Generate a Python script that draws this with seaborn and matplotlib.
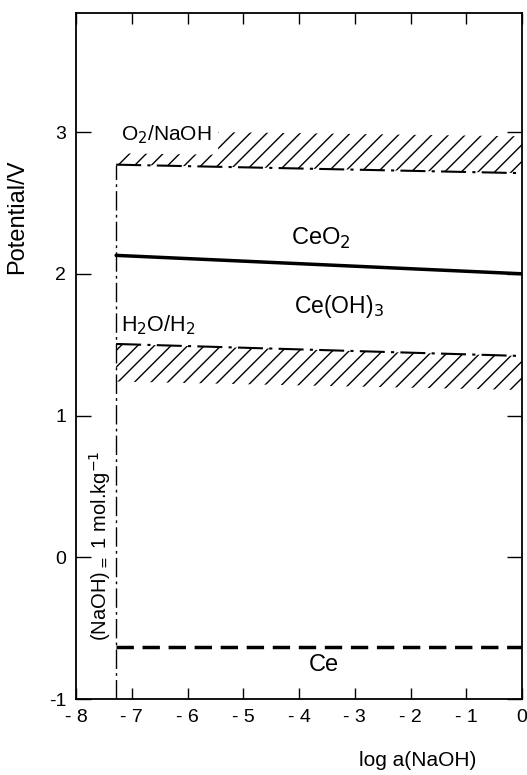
import numpy as np
import pandas as pd
import seaborn as sns
import matplotlib
matplotlib.use("Agg")
import matplotlib.pyplot as plt

sns.set_style("ticks")
plt.rcParams['font.family'] = ['Liberation Sans', 'DejaVu Sans']

DPI = 100
K = 100.0 / DPI


def S(v):
    return v * K


plt.rcParams['hatch.linewidth'] = S(1.0)
plt.rcParams['text.color'] = 'black'
plt.rcParams['xtick.color'] = 'black'
plt.rcParams['ytick.color'] = 'black'

# data
x_ends = [-7.28, 0.0]
o2_line = [2.77, 2.71]
o2_hatch_x = [-7.28, -5.45, -5.45, 0.0]
o2_hatch_top = [2.85, 2.84, 3.0, 2.97]
ceo2_line = [2.13, 2.00]
h2o_line = [1.505, 1.42]
h2o_hatch_bot = [1.24, 1.18]
ce_line = [-0.635, -0.635]
x_ticks = [-8, -7, -6, -5, -4, -3, -2, -1, 0]
x_ticklabels = ["- 8", "- 7", "- 6", "- 5", "- 4", "- 3", "- 2", "- 1", "0"]
y_ticks = [-1, 0, 1, 2, 3]
y_ticklabels = ["-1", "0", "1", "2", "3"]

fig = plt.figure(figsize=(527 / DPI, 775 / DPI), dpi=DPI)
ax = fig.add_axes([76/527, 1-699/775, (522-76)/527, (699-13)/775])

df = pd.DataFrame({
    "x": x_ends * 4,
    "y": o2_line + ceo2_line + h2o_line + ce_line,
    "line": ["O2"]*2 + ["CeO2"]*2 + ["H2O"]*2 + ["Ce"]*2,
})

# hatched bands
o2_low = np.interp(o2_hatch_x, x_ends, o2_line)
ax.fill_between(o2_hatch_x, o2_low, o2_hatch_top, facecolor="none", edgecolor="black",
                hatch="//", linewidth=0)
ax.fill_between(x_ends, h2o_hatch_bot, h2o_line, facecolor="none", edgecolor="black",
                hatch="//", linewidth=0)

dashdot = (0, (12, 3, 1.5, 3))
sns.lineplot(data=df[df.line == "O2"], x="x", y="y", ax=ax, color="black",
             linewidth=S(1.5), linestyle=dashdot)
sns.lineplot(data=df[df.line == "H2O"], x="x", y="y", ax=ax, color="black",
             linewidth=S(1.5), linestyle=dashdot)
sns.lineplot(data=df[df.line == "CeO2"], x="x", y="y", ax=ax, color="black",
             linewidth=S(2.5))
sns.lineplot(data=df[df.line == "Ce"], x="x", y="y", ax=ax, color="black",
             linewidth=S(2.5), linestyle=(0, (5, 2.5)))

# vertical boundary (NaOH = 1 mol/kg)
ax.plot([x_ends[0], x_ends[0]], [-1, o2_line[0]], color="black", linewidth=S(1.0),
        linestyle=(0, (14, 3, 2, 3)))

ax.set_xlim(-8, 0)
ax.set_ylim(-1, 3.84)
ax.set_xticks(x_ticks)
ax.set_xticklabels(x_ticklabels, fontsize=S(14))
ax.set_yticks(y_ticks)
ax.set_yticklabels(y_ticklabels, fontsize=S(14))
ax.tick_params(direction="in", top=True, right=True, length=S(8), width=S(1))
ax.tick_params(axis="x", pad=S(7))
ax.tick_params(axis="y", length=S(11), pad=S(7))
for s in ax.spines.values():
    s.set_linewidth(S(1.3))
    s.set_color("black")
ax.set_xlabel("")
ax.set_ylabel("")

ax.text(-7.2, 2.98, "O$_2$/NaOH", fontsize=S(15), ha="left", va="center")
ax.text(-3.6, 2.25, "CeO$_2$", fontsize=S(17), ha="center", va="center")
ax.text(-3.28, 1.77, "Ce(OH)$_3$", fontsize=S(16.5), ha="center", va="center")
ax.text(-7.2, 1.64, "H$_2$O/H$_2$", fontsize=S(15.5), ha="left", va="center")
ax.text(-3.55, -0.76, "Ce", fontsize=S(17), ha="center", va="center")
ax.text(-7.57, 0.08, "(NaOH)$_{=}$ 1 mol.kg$^{-1}$", fontsize=S(14.5), rotation=90,
        ha="center", va="center")

fig.text(17/527, 1-217/775, "Potential/V", rotation=90, fontsize=S(17), ha="center", va="center")
fig.text(418/527, 1-761/775, "log a(NaOH)", fontsize=S(15), ha="center", va="center")

fig.savefig("out.png", dpi=DPI)
